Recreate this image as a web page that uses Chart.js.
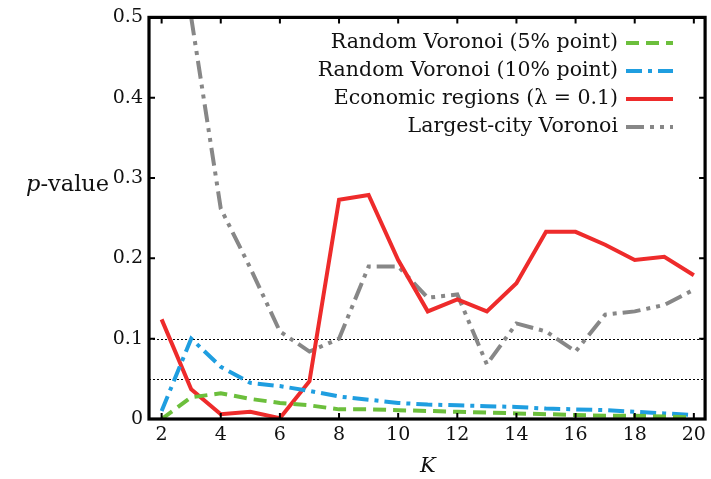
<!DOCTYPE html>
<html>
<head>
<meta charset="utf-8">
<script src="https://cdn.jsdelivr.net/npm/chart.js@4.4.1/dist/chart.umd.min.js"></script>
<style>
  body { margin: 0; background: #fff; }
  #wrap { width: 711px; height: 479px; }
</style>
</head>
<body>
<div id="wrap"><canvas id="pChart" width="711" height="479"></canvas></div>
<script>
// K values and p-values
const kValues = [2, 3, 4, 5, 6, 7, 8, 9, 10, 11, 12, 13, 14, 15, 16, 17, 18, 19, 20];
const random5 = [0, 0.027, 0.032, 0.025, 0.020, 0.017, 0.012, 0.012, 0.011, 0.010, 0.009, 0.008, 0.007, 0.006, 0.005, 0.004, 0.004, 0.003, 0.002];
const random10 = [0.010, 0.100, 0.065, 0.045, 0.041, 0.035, 0.028, 0.024, 0.020, 0.018, 0.017, 0.016, 0.015, 0.013, 0.012, 0.011, 0.009, 0.007, 0.005];
const economic = [0.124, 0.037, 0.006, 0.009, 0.001, 0.047, 0.273, 0.279, 0.198, 0.134, 0.149, 0.134, 0.169, 0.233, 0.233, 0.217, 0.198, 0.202, 0.179];
const largestCity = [null, 0.5, 0.262, 0.188, 0.109, 0.084, 0.100, 0.190, 0.190, 0.151, 0.155, 0.068, 0.119, 0.109, 0.084, 0.130, 0.134, 0.142, 0.161];
const xTicks = [2, 4, 6, 8, 10, 12, 14, 16, 18, 20];
const yTicks = [0, 0.1, 0.2, 0.3, 0.4, 0.5];
const refLines = [0.1, 0.05];

const serif = '"DejaVu Serif", "Liberation Serif", serif';

const series = [
    { label: 'Random Voronoi (5% point)', data: random5, color: '#6cbf3c', dash: [13, 7] },
    { label: 'Random Voronoi (10% point)', data: random10, color: '#1f9ee0', dash: [16, 6, 4, 6] },
    { label: 'Economic regions (\u03bb = 0.1)', data: economic, color: '#ee2b2b', dash: [] },
    { label: 'Largest-city Voronoi', data: largestCity, color: '#878787', dash: [18, 6, 4, 6, 4, 6] }
];

function toPoints(arr) {
    return kValues.map((k, i) => ({ x: k, y: arr[i] }));
}

// frame, inward ticks, dotted reference lines, legend and axis titles
const decor = {
    id: 'decor',
    beforeDatasetsDraw(chart) {
        const { ctx, chartArea: a, scales: { y } } = chart;
        ctx.save();
        ctx.strokeStyle = '#000';
        ctx.lineWidth = 1;
        ctx.setLineDash([2, 2]);
        refLines.forEach(v => {
            const py = Math.round(y.getPixelForValue(v)) + 0.5;
            ctx.beginPath();
            ctx.moveTo(a.left, py);
            ctx.lineTo(a.right, py);
            ctx.stroke();
        });
        ctx.restore();
    },
    afterDatasetsDraw(chart) {
        const { ctx, chartArea: a, scales: { x, y } } = chart;
        ctx.save();
        ctx.strokeStyle = '#000';
        ctx.lineWidth = 2;
        const tl = 6;
        xTicks.forEach(v => {
            const px = x.getPixelForValue(v);
            ctx.beginPath();
            ctx.moveTo(px, a.bottom); ctx.lineTo(px, a.bottom - tl);
            ctx.moveTo(px, a.top); ctx.lineTo(px, a.top + tl);
            ctx.stroke();
        });
        yTicks.forEach(v => {
            const py = y.getPixelForValue(v);
            ctx.beginPath();
            ctx.moveTo(a.left, py); ctx.lineTo(a.left + tl, py);
            ctx.moveTo(a.right, py); ctx.lineTo(a.right - tl, py);
            ctx.stroke();
        });
        ctx.lineWidth = 3.2;
        ctx.strokeRect(a.left, a.top, a.right - a.left, a.bottom - a.top);

        // legend
        ctx.font = '20.5px ' + serif;
        ctx.textAlign = 'right';
        ctx.textBaseline = 'middle';
        const rows = [43, 71, 99, 127];
        series.forEach((s, i) => {
            ctx.fillStyle = '#111';
            ctx.fillText(s.label, 618, rows[i]);
            ctx.strokeStyle = s.color;
            ctx.lineWidth = 4;
            ctx.setLineDash(s.dash);
            ctx.beginPath();
            ctx.moveTo(626, rows[i]);
            ctx.lineTo(673, rows[i]);
            ctx.stroke();
        });
        ctx.setLineDash([]);

        // axis titles
        ctx.fillStyle = '#111';
        ctx.textBaseline = 'alphabetic';
        ctx.textAlign = 'left';
        ctx.font = 'italic 22.5px ' + serif;
        ctx.fillText('p', 26, 191);
        const pw = ctx.measureText('p').width;
        ctx.font = '22.5px ' + serif;
        ctx.fillText('-value', 26 + pw, 191);
        ctx.textAlign = 'center';
        ctx.font = 'italic 21px ' + serif;
        ctx.fillText('K', x.getPixelForValue(11), 472);
        ctx.restore();
    }
};

const ctx = document.getElementById('pChart').getContext('2d');
const pChart = new Chart(ctx, {
    type: 'line',
    data: {
        datasets: series.map(s => ({
            label: s.label,
            data: toPoints(s.data),
            borderColor: s.color,
            borderWidth: 4,
            borderDash: s.dash,
            pointRadius: 0,
            fill: false,
            tension: 0,
            spanGaps: false
        }))
    },
    options: {
        responsive: false,
        animation: false,
        layout: { padding: { top: 15, right: 3, left: 0, bottom: 0 } },
        plugins: {
            legend: { display: false },
            tooltip: { enabled: false }
        },
        scales: {
            x: {
                type: 'linear',
                min: 1.573,
                max: 20.38,
                afterBuildTicks: scale => { scale.ticks = xTicks.map(v => ({ value: v })); },
                afterFit: scale => { scale.height = 60; },
                grid: { display: false, drawTicks: false },
                border: { display: false },
                ticks: {
                    padding: 5,
                    color: '#111',
                    font: { family: serif, size: 19 },
                    maxRotation: 0,
                    callback: v => String(v)
                }
            },
            y: {
                type: 'linear',
                min: 0,
                max: 0.5,
                afterBuildTicks: scale => { scale.ticks = yTicks.map(v => ({ value: v })); },
                afterFit: scale => { scale.width = 149; },
                grid: { display: false, drawTicks: false },
                border: { display: false },
                ticks: {
                    padding: 6,
                    color: '#111',
                    font: { family: serif, size: 19 },
                    callback: v => v === 0 ? '0' : String(Math.round(v * 10) / 10)
                }
            }
        }
    },
    plugins: [decor]
});
</script>
</body>
</html>
